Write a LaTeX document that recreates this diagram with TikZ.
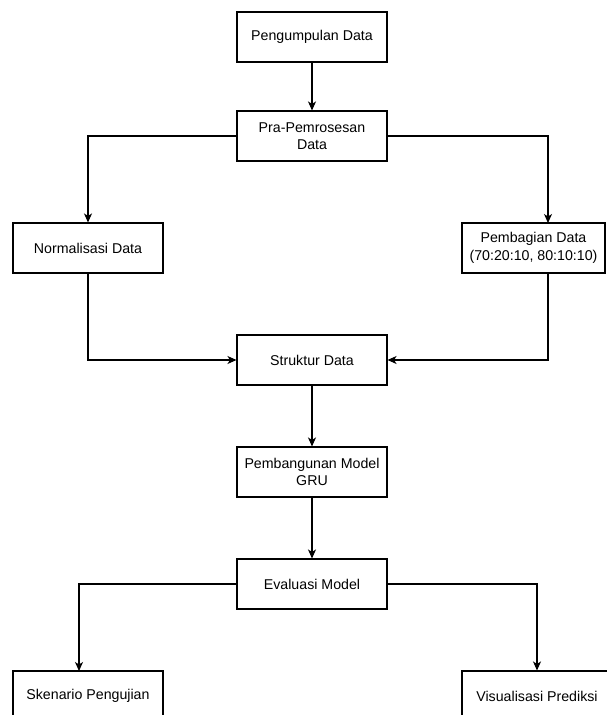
\documentclass[tikz,border=0pt]{standalone}
\usepackage{fontspec}
\setmainfont{Liberation Sans}
\usetikzlibrary{arrows.meta}

\begin{document}
\begin{tikzpicture}[x=1pt,y=-1pt,
  langkah/.style={draw,line width=1.1pt,minimum width=150pt,minimum height=50pt,
    align=center,inner sep=2pt,font=\fontsize{14.2}{17.5}\selectfont},
  panah/.style={line width=1.1pt,-{Stealth[length=9pt,width=8pt,inset=2.5pt]}}]
\clip (0,0) rectangle (607,715);
% tahap utama
\node[langkah] (kumpul) at (312,37) {Pengumpulan Data};
\node[langkah] (pra) at (312,136) {Pra-Pemrosesan\\Data};
\node[langkah] (norm) at (88,248) {Normalisasi Data};
\node[langkah,minimum width=143pt] (bagi) at (533.5,248) {Pembagian Data\\(70:20:10, 80:10:10)};
\node[langkah] (struktur) at (312,360) {Struktur Data};
\node[langkah] (model) at (312,472) {Pembangunan Model\\GRU};
\node[langkah] (eval) at (312,584) {Evaluasi Model};
\node[langkah] (skenario) at (88,696) {Skenario Pengujian};
\node[langkah] (visual) at (537,696) {Visualisasi Prediksi};
% titik masuk panah
\coordinate (bagiin) at (548,223);
\coordinate (bagiout) at (548,273);
\coordinate (skenin) at (79,671);
% panah
\draw[panah] (kumpul) -- (pra);
\draw[panah] (pra.west) -| (norm.north);
\draw[panah] (pra.east) -| (bagiin);
\draw[panah] (norm.south) |- (struktur.west);
\draw[panah] (bagiout) |- (struktur.east);
\draw[panah] (struktur) -- (model);
\draw[panah] (model) -- (eval);
\draw[panah] (eval.west) -| (skenin);
\draw[panah] (eval.east) -| (visual.north);
\end{tikzpicture}
\end{document}
